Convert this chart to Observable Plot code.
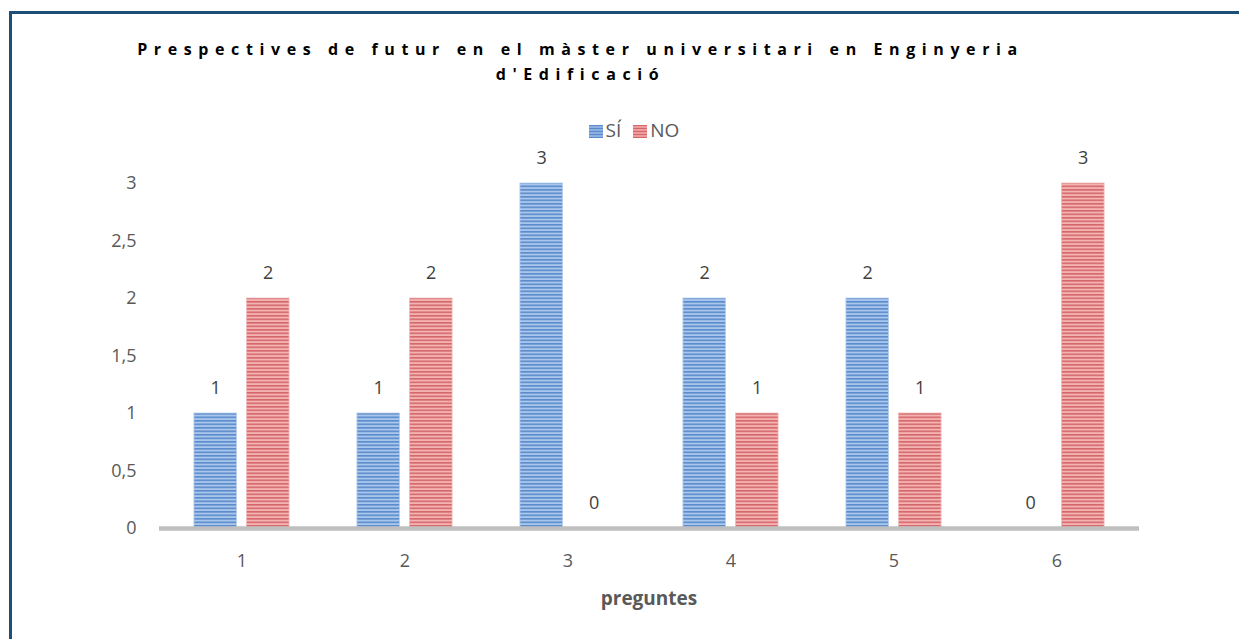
<!DOCTYPE html>
<html><head><meta charset="utf-8">
<script src="https://cdn.jsdelivr.net/npm/d3@7"></script>
<script src="https://cdn.jsdelivr.net/npm/@observablehq/plot@0.6"></script>
<style>
body{margin:0;background:#fff;font-family:"Open Sans",sans-serif;width:1239px;height:639px;overflow:hidden;position:relative;}
#frame{position:absolute;left:9px;top:11px;width:1300px;height:700px;border-top:3px solid #1F4E79;border-left:3px solid #1F4E79;box-sizing:border-box;}
#title{position:absolute;left:0;width:1161px;top:37px;text-align:center;font-weight:bold;font-size:16px;letter-spacing:6.6px;line-height:25px;color:#000;}
#legend{position:absolute;left:0;width:1268px;top:118px;text-align:center;font-size:19px;color:#595959;line-height:24px;}
#legend .sw{display:inline-block;width:14px;height:13px;margin-right:3px;vertical-align:-1px;}
#legend .item{margin:0 6px;}
#chart{position:absolute;left:0;top:140px;}
#xlabel{position:absolute;left:0;width:1298px;top:585px;text-align:center;font-weight:bold;font-size:19px;color:#595959;}
</style>
</head><body>
<div id="frame"></div>
<div id="title">Prespectives de futur en el màster universitari en Enginyeria<br>d'Edificació</div>
<div id="legend"></div>
<div id="chart"></div>
<div id="xlabel">preguntes</div>
<script>
const questions = ["1","2","3","4","5","6"];
const seriesNames = ["SÍ","NO"];
const siValues = [1,1,3,2,2,0];
const noValues = [2,2,0,1,1,3];
const yTicks = [0,0.5,1,1.5,2,2.5,3];

const siRows = questions.map((q,i)=>({q, s:"SÍ", v:siValues[i]}));
const noRows = questions.map((q,i)=>({q, s:"NO", v:noValues[i]}));

const swatch = {"SÍ":"url(#blueStripes)","NO":"url(#redStripes)"};
const legendDark = {"SÍ":"#5B8BCB","NO":"#D5676A"};
const legendLight = {"SÍ":"#8DB0E2","NO":"#EC9C9C"};
document.getElementById("legend").innerHTML = seriesNames.map(s =>
  `<span class="item"><span class="sw" style="background:repeating-linear-gradient(${legendDark[s]} 0 1.5px, ${legendLight[s]} 1.5px 3px)"></span>${s}</span>`).join("");

const band = 980/6, barW = 43, gap = 9.5;
const outer = (band - 2*barW - gap)/2;

const svg = Plot.plot({
  width: 1239, height: 440,
  marginLeft: 159, marginRight: 100, marginTop: 43, marginBottom: 52,
  style: {fontSize: "18px", fontFamily: "'Open Sans', sans-serif", color: "#595959", background: "transparent"},
  x: {domain: questions, padding: 0, label: null, tickSize: 0, tickPadding: 26},
  y: {domain: [0,3], ticks: yTicks, tickFormat: d => String(d).replace(".", ","), tickSize: 0, tickPadding: 23, label: null},
  marks: [
    Plot.barY(siRows, {x: "q", y: "v", fill: swatch["SÍ"], stroke: "#B8CFEE", strokeWidth: 0.8, insetLeft: outer, insetRight: band - outer - barW}),
    Plot.barY(noRows, {x: "q", y: "v", fill: swatch["NO"], stroke: "#F2BDBD", strokeWidth: 0.8, insetLeft: outer + barW + gap, insetRight: outer}),
    Plot.ruleY([0], {stroke: "#BFBFBF", strokeWidth: 4.5}),
    Plot.text(siRows, {x: "q", y: "v", text: d => String(d.v), dx: -(barW+gap)/2, dy: -25, fill: "#404040", fontSize: 18}),
    Plot.text(noRows, {x: "q", y: "v", text: d => String(d.v), dx: (barW+gap)/2, dy: -25, fill: "#404040", fontSize: 18})
  ]
});

const ns = "http://www.w3.org/2000/svg";
const defs = document.createElementNS(ns, "defs");
function makePattern(id, light, dark) {
  const p = document.createElementNS(ns, "pattern");
  p.setAttribute("id", id);
  p.setAttribute("patternUnits", "userSpaceOnUse");
  p.setAttribute("width", "10");
  p.setAttribute("height", "3.5");
  const r1 = document.createElementNS(ns, "rect");
  r1.setAttribute("width", "10"); r1.setAttribute("height", "3.5"); r1.setAttribute("fill", light);
  const r2 = document.createElementNS(ns, "rect");
  r2.setAttribute("width", "10"); r2.setAttribute("height", "1.6"); r2.setAttribute("fill", dark);
  p.appendChild(r1); p.appendChild(r2);
  defs.appendChild(p);
}
makePattern("blueStripes", "#A9C6EC", "#5B8BCB");
makePattern("redStripes", "#F4B3B3", "#D5676A");
svg.insertBefore(defs, svg.firstChild);
document.getElementById("chart").appendChild(svg);
</script>
</body></html>
